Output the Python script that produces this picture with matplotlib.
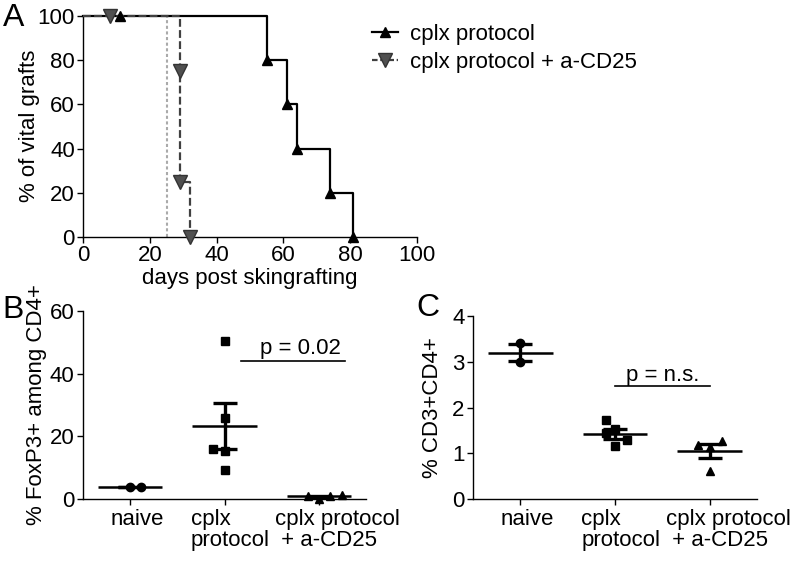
import matplotlib
matplotlib.use("Agg")
import matplotlib.pyplot as plt
from matplotlib.lines import Line2D

plt.rcParams['font.family'] = ['Liberation Sans', 'DejaVu Sans']
FS = 16
plt.rcParams['font.size'] = FS

# ---------------- Panel A data (Kaplan-Meier) ----------------
a_days_cplx = [0, 55, 61, 64, 74, 81]
a_pct_cplx = [100, 80, 60, 40, 20, 0]
a_mark_days_cplx = [11, 55, 61, 64, 74, 81]
a_mark_pct_cplx = [100, 80, 60, 40, 20, 0]

a_days_cd25 = [0, 29, 29, 32]
a_pct_cd25 = [100, 75, 25, 0]
a_mark_days_cd25 = [8, 29, 29, 32]
a_mark_pct_cd25 = [100, 75, 25, 0]

a_ref_day = 25
a_ticks = [0, 20, 40, 60, 80, 100]
a_legend = ["cplx protocol", "cplx protocol + a-CD25"]

# ---------------- Panel B / C data ----------------
categories = ["naive", "cplx\nprotocol", "cplx protocol\n + a-CD25"]

b_naive = [3.7, 3.9]
b_naive_dx = [0.0, 0.12]
b_cplx = [50.5, 25.8, 16.0, 15.3, 9.2]
b_cplx_dx = [0.0, 0.0, -0.12, 0.0, 0.0]
b_cd25 = [0.9, 0.1, 0.8, 1.3]
b_cd25_dx = [-0.12, 0.0, 0.12, 0.25]
b_mean = [3.8, 23.2, 0.8]
b_sem = [0.1, 7.3, 0.25]
b_ticks = [0, 20, 40, 60]
b_p_text = "p = 0.02"
b_p_y = 44
b_p_x = [1.17, 2.28]

c_naive = [3.4, 3.0]
c_naive_dx = [0.0, 0.0]
c_cplx = [1.72, 1.52, 1.45, 1.30, 1.15]
c_cplx_dx = [-0.1, 0.0, -0.1, 0.13, 0.0]
c_cd25 = [1.19, 1.26, 0.61, 1.14]
c_cd25_dx = [-0.12, 0.13, 0.0, 0.0]
c_mean = [3.2, 1.42, 1.05]
c_sem = [0.19, 0.11, 0.15]
c_ticks = [0, 1, 2, 3, 4]
c_p_text = "p = n.s."
c_p_y = 2.46
c_p_x = [1.0, 2.0]

W, H = 800, 565
fig = plt.figure(figsize=(8, 5.65), dpi=100)

def ax_px(left, right, top, bottom):
    return fig.add_axes([left / W, 1 - bottom / H, (right - left) / W, (bottom - top) / H])

def style(ax):
    for s in ['top', 'right']:
        ax.spines[s].set_visible(False)
    for s in ['left', 'bottom']:
        ax.spines[s].set_linewidth(1.0)
    ax.tick_params(direction='out', length=4, width=1.0, pad=2, labelsize=FS)

# ---------------- Panel A ----------------
axA = ax_px(83.3, 416.7, 16, 237)
style(axA)
axA.set_xlim(0, 100)
axA.set_ylim(0, 100)
axA.set_xticks(a_ticks)
axA.set_yticks(a_ticks)
axA.axvline(a_ref_day, color='#aaaaaa', lw=1.5, ls=(0, (1.5, 1.2)), zorder=1)
axA.step(a_days_cplx, a_pct_cplx, where='post', color='black', lw=1.6, zorder=2, clip_on=False)
axA.plot(a_mark_days_cplx, a_mark_pct_cplx, ls='none', marker='^', ms=7.5, color='black', zorder=4, clip_on=False)
axA.step(a_days_cd25, a_pct_cd25, where='post', color='#404040', lw=1.6, ls=(0, (3.5, 1.5)), zorder=3, clip_on=False)
axA.plot(a_mark_days_cd25, a_mark_pct_cd25, ls='none', marker='v', ms=9.5, mfc='#505050', mec='#333333', zorder=5, clip_on=False)
axA.set_xlabel("days post skingrafting", fontsize=FS, labelpad=1)
fig.text(30 / W, 1 - 126 / H, "% of vital grafts", rotation=90, ha='center', va='center', fontsize=FS)

handles = [Line2D([], [], color='black', lw=1.6, marker='^', ms=7.5),
           Line2D([], [], color='#404040', lw=1.6, ls=(0, (2.5, 1.2)), marker='v', ms=9.5, mfc='#505050', mec='#333333')]
fig.legend(handles, a_legend, loc='upper left', bbox_to_anchor=(372 / W, 1 - 24 / H), frameon=False,
           fontsize=FS, handlelength=1.15, handletextpad=0.55, labelspacing=0.3, borderpad=0, borderaxespad=0)

# ---------------- Scatter panels ----------------
def scatter_panel(ax, groups, dxs, markers, ms, means, sems, ticks, ymax, ptext, py, px, ptext_xy):
    style(ax)
    ax.set_xlim(-0.5, 2.5)
    ax.set_ylim(0, ymax)
    ax.set_yticks(ticks)
    ax.set_xticks([0, 1, 2])
    ax.set_xticklabels([])
    for i, (vals, dx, m) in enumerate(zip(groups, dxs, markers)):
        ax.plot([i + d for d in dx], vals, ls='none', marker=m, ms=ms, color='black', zorder=3, clip_on=False)
        ax.plot([i - 0.34, i + 0.34], [means[i], means[i]], color='black', lw=1.8, zorder=4, solid_capstyle='butt', clip_on=False)
        ax.errorbar([i], [means[i]], yerr=[sems[i]], color='black', lw=2.4, capsize=8.5, capthick=2.4, zorder=4, clip_on=False)
    ax.plot(px, [py, py], color='black', lw=1.2)
    ax.text(ptext_xy[0], ptext_xy[1], ptext, ha='center', va='center', fontsize=FS)
    offs = [0.07, 0.06, 0.2]
    for i, lab in enumerate(categories):
        ax.text(i + offs[i], -0.055, lab, transform=ax.get_xaxis_transform(), ha='center', va='top',
                multialignment='left', fontsize=FS, linespacing=1.0)

axB = ax_px(83, 366, 311, 499)
scatter_panel(axB, [b_naive, b_cplx, b_cd25], [b_naive_dx, b_cplx_dx, b_cd25_dx], ['o', 's', '^'], 6,
              b_mean, b_sem, b_ticks, 60, b_p_text, b_p_y, b_p_x, (1.8, 48.0))
fig.text(37 / W, 1 - 405 / H, "% FoxP3+ among CD4+", rotation=90, ha='center', va='center', fontsize=FS)

axC = ax_px(473, 757, 316, 499)
scatter_panel(axC, [c_naive, c_cplx, c_cd25], [c_naive_dx, c_cplx_dx, c_cd25_dx], ['o', 's', '^'], 6,
              c_mean, c_sem, c_ticks, 4, c_p_text, c_p_y, c_p_x, (1.5, 2.7))
fig.text(433 / W, 1 - 408 / H, "% CD3+CD4+", rotation=90, ha='center', va='center', fontsize=FS)

# panel letters
fig.text(14 / W, 1 - 18 / H, "A", fontsize=23, ha='center', va='center')
fig.text(13 / W, 1 - 310 / H, "B", fontsize=23, ha='center', va='center')
fig.text(428 / W, 1 - 308 / H, "C", fontsize=23, ha='center', va='center')

fig.savefig("out.png", dpi=100)
